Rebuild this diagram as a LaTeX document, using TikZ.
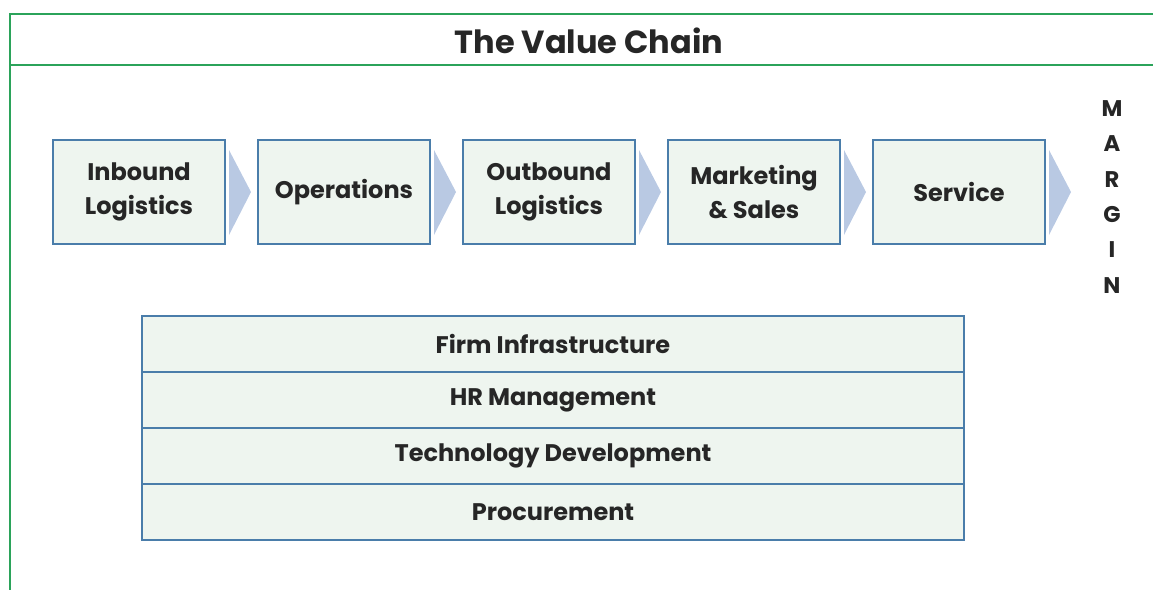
\documentclass[tikz,border=0pt]{standalone}
\usepackage{fontspec}
\setmainfont{Poppins}
\usepackage{tikz}
\usetikzlibrary{positioning, calc}

\definecolor{framegreen}{HTML}{2BA35A}
\definecolor{boxblue}{HTML}{4A7DAA}
\definecolor{boxfill}{HTML}{EEF5EF}
\definecolor{arrowblue}{HTML}{B9C9E3}

\tikzset{
  activity/.style = { draw = boxblue, fill = boxfill, line width = 1.5pt,
    minimum width = 129pt, minimum height = 78pt, align = center,
    font = \fontsize{18}{25}\selectfont\bfseries, text = black!85 },
  support/.style = { draw = boxblue, fill = boxfill, line width = 1.5pt,
    minimum width = 616.5pt, minimum height = 42pt,
    font = \fontsize{18}{22}\selectfont\bfseries, text = black!85 },
  chevron/.style = { fill = arrowblue, draw = none }
}

\begin{document}
\begin{tikzpicture}[x = 0.75pt, y = -0.75pt, node distance = 23.25pt]
  \useasboundingbox (0,0) rectangle (1153,590);
  % frame and title
  \draw[framegreen, line width = 1.8pt] (1153,14) -- (10,14) -- (10,590);
  \draw[framegreen, line width = 1.8pt] (10,65) -- (1153,65);
  \node[font = \fontsize{24}{28}\selectfont\bfseries, text = black!85] (title) at (589,41) {The Value Chain};

  % primary activities
  \node[activity] (inbound) at (139,192) {Inbound \\ Logistics};
  \node[activity, right = of inbound] (operations) {Operations};
  \node[activity, right = of operations] (outbound) {Outbound \\ Logistics};
  \node[activity, right = of outbound] (marketing) {Marketing \\ \& Sales};
  \node[activity, right = of marketing] (service) {Service};

  \foreach \b in {inbound, operations, outbound, marketing, service}
    \fill[chevron] ($(\b.east)+(3,-42)$) -- ($(\b.east)+(25,0)$) -- ($(\b.east)+(3,43)$) -- cycle;

  \node[align = center, font = \fontsize{17}{26.5}\selectfont\bfseries, text = black!85]
    (margin) at (1112,197) {M\\A\\R\\G\\I\\N};

  % support activities
  \node[support] (infra) at (553,344) {Firm Infrastructure};
  \node[support, below = -1.5pt of infra] (hr) {HR Management};
  \node[support, below = -1.5pt of hr] (tech) {Technology Development};
  \node[support, below = -1.5pt of tech] (procure) {Procurement};
\end{tikzpicture}
\end{document}
